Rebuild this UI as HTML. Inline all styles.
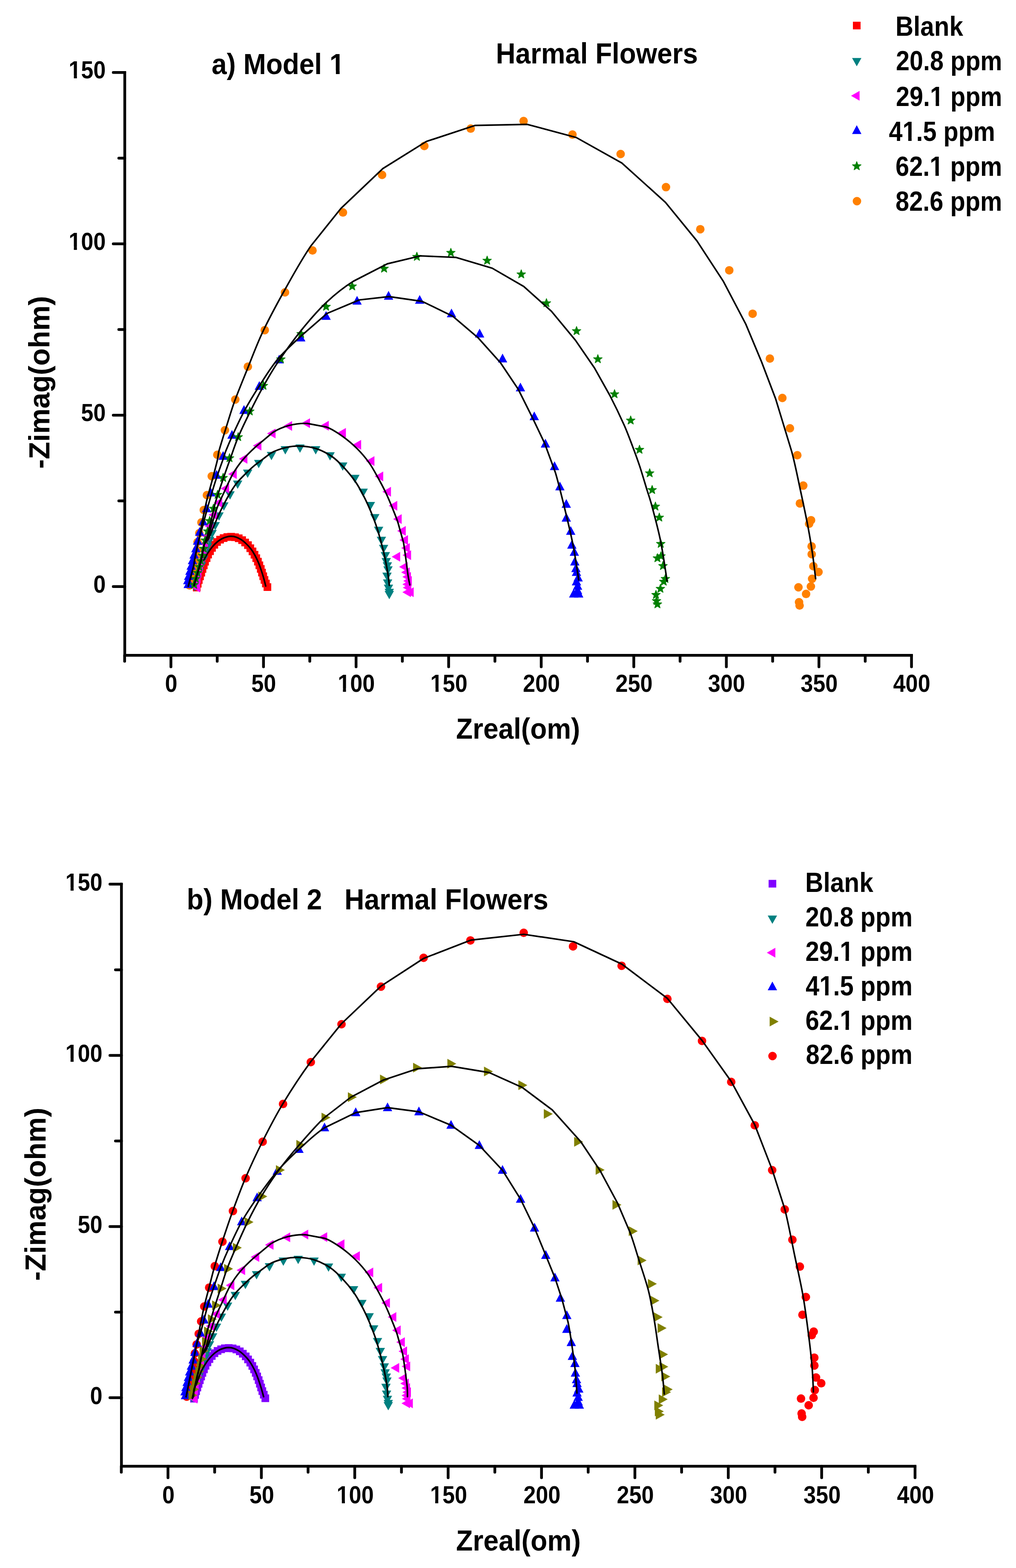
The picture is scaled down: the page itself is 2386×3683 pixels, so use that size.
<!DOCTYPE html>
<html><head><meta charset="utf-8"><title>Harmal Flowers - Nyquist plots</title>
<style>html,body{margin:0;padding:0;background:#fff;}svg{display:block;}</style></head>
<body>
<svg width="2386" height="3683" viewBox="0 0 2386 3683">
<rect width="2386" height="3683" fill="#fff"/>
<defs>
<rect id="sq" x="-9" y="-9" width="18" height="18"/>
<circle id="ci" cx="0" cy="0" r="10"/>
<polygon id="tu" points="0,-10.3 11,10.3 -11,10.3"/>
<polygon id="td" points="-11,-9.75 11,-9.75 0,9.75"/>
<polygon id="tl" points="-10,0 10,-11.5 10,11.5"/>
<polygon id="tr" points="10.5,0 -10.5,-11.5 -10.5,11.5"/>
<polygon id="st" points="0,-9.5 2.7,-2.2 10.5,-1.9 4.4,2.9 6.5,10.4 0,6.1 -6.5,10.4 -4.4,2.9 -10.5,-1.9 -2.7,-2.2" stroke-width="1.3" stroke-linejoin="bevel"/>
</defs>
<g fill="#000">
<path d="M293,170.2 V1539.3 H2140.6" fill="none" stroke="#000" stroke-width="6.5" stroke-linejoin="miter" stroke-linecap="square"/>
<path d="M266,1377.7 H293 M266,975.2 H293 M266,572.7 H293 M266,170.2 H293 M279,1176.5 H293 M279,774 H293 M279,371.4 H293 M401.4,1539.3 V1566.3 M618.8,1539.3 V1566.3 M836.2,1539.3 V1566.3 M1053.6,1539.3 V1566.3 M1271,1539.3 V1566.3 M1488.4,1539.3 V1566.3 M1705.8,1539.3 V1566.3 M1923.2,1539.3 V1566.3 M2140.6,1539.3 V1566.3 M292.7,1539.3 V1553.3 M510.1,1539.3 V1553.3 M727.5,1539.3 V1553.3 M944.9,1539.3 V1553.3 M1162.3,1539.3 V1553.3 M1379.7,1539.3 V1553.3 M1597.1,1539.3 V1553.3 M1814.5,1539.3 V1553.3 M2031.9,1539.3 V1553.3" fill="none" stroke="#000" stroke-width="6.5" stroke-linecap="round"/>
</g>
<g fill="#FF0000">
<use href="#sq" x="462" y="1380"/>
<use href="#sq" x="464.3" y="1371.2"/>
<use href="#sq" x="466.8" y="1362.5"/>
<use href="#sq" x="469.7" y="1353.8"/>
<use href="#sq" x="472.6" y="1345.2"/>
<use href="#sq" x="475.5" y="1336.5"/>
<use href="#sq" x="478.5" y="1327.9"/>
<use href="#sq" x="481.5" y="1319.4"/>
<use href="#sq" x="485.1" y="1311"/>
<use href="#sq" x="488.7" y="1302.6"/>
<use href="#sq" x="493.2" y="1294.7"/>
<use href="#sq" x="497.8" y="1286.9"/>
<use href="#sq" x="503.3" y="1279.6"/>
<use href="#sq" x="509.6" y="1273.1"/>
<use href="#sq" x="516.8" y="1267.6"/>
<use href="#sq" x="525.1" y="1263.9"/>
<use href="#sq" x="533.8" y="1261.4"/>
<use href="#sq" x="542.8" y="1260.7"/>
<use href="#sq" x="551.8" y="1261.8"/>
<use href="#sq" x="560.6" y="1264.3"/>
<use href="#sq" x="568.6" y="1268.7"/>
<use href="#sq" x="575.7" y="1274.3"/>
<use href="#sq" x="582.3" y="1280.4"/>
<use href="#sq" x="587.8" y="1287.7"/>
<use href="#sq" x="593" y="1295.2"/>
<use href="#sq" x="597.7" y="1303"/>
<use href="#sq" x="601.8" y="1311.1"/>
<use href="#sq" x="605.7" y="1319.3"/>
<use href="#sq" x="609.1" y="1327.8"/>
<use href="#sq" x="612.4" y="1336.3"/>
<use href="#sq" x="615.3" y="1344.9"/>
<use href="#sq" x="618.2" y="1353.5"/>
<use href="#sq" x="621.1" y="1362.2"/>
<use href="#sq" x="624.4" y="1370.6"/>
<use href="#sq" x="628" y="1379"/>
</g>
<g fill="#008080">
<use href="#td" x="457" y="1379"/>
<use href="#td" x="459" y="1372"/>
<use href="#td" x="463" y="1360"/>
<use href="#td" x="468" y="1345"/>
<use href="#td" x="473" y="1330"/>
<use href="#td" x="478" y="1315"/>
<use href="#td" x="483" y="1300"/>
<use href="#td" x="487.6" y="1285.4"/>
<use href="#td" x="492.4" y="1270.8"/>
<use href="#td" x="498.1" y="1254.6"/>
<use href="#td" x="505.4" y="1235.9"/>
<use href="#td" x="514.3" y="1213.2"/>
<use href="#td" x="525.7" y="1189.7"/>
<use href="#td" x="540.2" y="1163.8"/>
<use href="#td" x="558.1" y="1138.6"/>
<use href="#td" x="581.6" y="1112.7"/>
<use href="#td" x="607.6" y="1090"/>
<use href="#td" x="637.5" y="1071.2"/>
<use href="#td" x="670" y="1057.7"/>
<use href="#td" x="704.5" y="1053.8"/>
<use href="#td" x="741.4" y="1057.7"/>
<use href="#td" x="775.1" y="1071.9"/>
<use href="#td" x="804.9" y="1096"/>
<use href="#td" x="833.5" y="1125.1"/>
<use href="#td" x="852.9" y="1157.5"/>
<use href="#td" x="869.8" y="1188.7"/>
<use href="#td" x="880.2" y="1217.2"/>
<use href="#td" x="889.2" y="1247"/>
<use href="#td" x="895.7" y="1270.4"/>
<use href="#td" x="900.9" y="1289.6"/>
<use href="#td" x="905" y="1306.5"/>
<use href="#td" x="907" y="1320.5"/>
<use href="#td" x="909.7" y="1330.5"/>
<use href="#td" x="911.2" y="1340"/>
<use href="#td" x="908.9" y="1354.7"/>
<use href="#td" x="910.3" y="1370.7"/>
<use href="#td" x="912.3" y="1382.9"/>
<use href="#td" x="914.2" y="1392.7"/>
<use href="#td" x="914.2" y="1397.7"/>
</g>
<g fill="#FF00FF">
<use href="#tl" x="460" y="1380"/>
<use href="#tl" x="459" y="1370"/>
<use href="#tl" x="461" y="1358"/>
<use href="#tl" x="463" y="1346"/>
<use href="#tl" x="466" y="1333"/>
<use href="#tl" x="469" y="1320"/>
<use href="#tl" x="472" y="1307"/>
<use href="#tl" x="475.4" y="1293.5"/>
<use href="#tl" x="478.6" y="1277.3"/>
<use href="#tl" x="483.5" y="1258.6"/>
<use href="#tl" x="490.8" y="1235.9"/>
<use href="#tl" x="499.7" y="1209.2"/>
<use href="#tl" x="511.9" y="1180.8"/>
<use href="#tl" x="528.1" y="1147.5"/>
<use href="#tl" x="545.9" y="1113.5"/>
<use href="#tl" x="571" y="1077.8"/>
<use href="#tl" x="603.9" y="1046.8"/>
<use href="#tl" x="637.1" y="1018.2"/>
<use href="#tl" x="676" y="1000.6"/>
<use href="#tl" x="718" y="994.1"/>
<use href="#tl" x="762.1" y="1000.1"/>
<use href="#tl" x="802.3" y="1016.7"/>
<use href="#tl" x="838.1" y="1044.7"/>
<use href="#tl" x="869.3" y="1083.1"/>
<use href="#tl" x="890" y="1119.1"/>
<use href="#tl" x="908.2" y="1154.9"/>
<use href="#tl" x="923" y="1188.1"/>
<use href="#tl" x="933.3" y="1219.3"/>
<use href="#tl" x="942.9" y="1247"/>
<use href="#tl" x="948.1" y="1268.5"/>
<use href="#tl" x="952.3" y="1287.2"/>
<use href="#tl" x="955.4" y="1304.1"/>
<use href="#tl" x="929.8" y="1307.7"/>
<use href="#tl" x="947.3" y="1331.6"/>
<use href="#tl" x="952.1" y="1344.2"/>
<use href="#tl" x="955" y="1354.9"/>
<use href="#tl" x="957" y="1364.6"/>
<use href="#tl" x="955" y="1372.4"/>
<use href="#tl" x="956" y="1380.2"/>
<use href="#tl" x="955" y="1390.9"/>
<use href="#tl" x="961.5" y="1390.9"/>
</g>
<g fill="#FF8000">
<use href="#ci" x="445" y="1374.9"/>
<use href="#ci" x="445.5" y="1367.9"/>
<use href="#ci" x="447.5" y="1358.9"/>
<use href="#ci" x="450" y="1348.9"/>
<use href="#ci" x="452.5" y="1337.9"/>
<use href="#ci" x="454.5" y="1327.9"/>
<use href="#ci" x="457" y="1316.9"/>
<use href="#ci" x="459.5" y="1305.9"/>
<use href="#ci" x="462.5" y="1291.9"/>
<use href="#ci" x="464" y="1273.3"/>
<use href="#ci" x="468.1" y="1252.2"/>
<use href="#ci" x="473" y="1227.1"/>
<use href="#ci" x="478.6" y="1197.9"/>
<use href="#ci" x="485.9" y="1163"/>
<use href="#ci" x="497.3" y="1118.5"/>
<use href="#ci" x="510.3" y="1068.2"/>
<use href="#ci" x="528.2" y="1010.5"/>
<use href="#ci" x="552.6" y="938.5"/>
<use href="#ci" x="582.1" y="861.3"/>
<use href="#ci" x="621.8" y="775.4"/>
<use href="#ci" x="669.3" y="686.7"/>
<use href="#ci" x="733.9" y="588.3"/>
<use href="#ci" x="805.4" y="499.1"/>
<use href="#ci" x="897.3" y="410.8"/>
<use href="#ci" x="996.5" y="342.9"/>
<use href="#ci" x="1105.4" y="302.1"/>
<use href="#ci" x="1229.6" y="284.2"/>
<use href="#ci" x="1344.4" y="316.1"/>
<use href="#ci" x="1457.5" y="361.7"/>
<use href="#ci" x="1564" y="439.6"/>
<use href="#ci" x="1644.6" y="538.4"/>
<use href="#ci" x="1712.6" y="634.9"/>
<use href="#ci" x="1767.5" y="736.9"/>
<use href="#ci" x="1808" y="842.3"/>
<use href="#ci" x="1837.3" y="934.7"/>
<use href="#ci" x="1855.1" y="1006"/>
<use href="#ci" x="1872.4" y="1069.2"/>
<use href="#ci" x="1886.4" y="1140.6"/>
<use href="#ci" x="1878.5" y="1182.4"/>
<use href="#ci" x="1904.7" y="1221.9"/>
<use href="#ci" x="1900.2" y="1230.3"/>
<use href="#ci" x="1906" y="1283.2"/>
<use href="#ci" x="1906.2" y="1301.7"/>
<use href="#ci" x="1910.1" y="1329.9"/>
<use href="#ci" x="1922.2" y="1343.5"/>
<use href="#ci" x="1907.2" y="1359.5"/>
<use href="#ci" x="1904.3" y="1377.6"/>
<use href="#ci" x="1875.1" y="1379.5"/>
<use href="#ci" x="1893" y="1395.1"/>
<use href="#ci" x="1876.5" y="1414.5"/>
<use href="#ci" x="1877.8" y="1422.3"/>
</g>
<g fill="#0000FF">
<use href="#tu" x="442" y="1371"/>
<use href="#tu" x="441" y="1362"/>
<use href="#tu" x="443" y="1352"/>
<use href="#tu" x="446" y="1340"/>
<use href="#tu" x="449" y="1328"/>
<use href="#tu" x="452" y="1315"/>
<use href="#tu" x="455.9" y="1301.6"/>
<use href="#tu" x="460" y="1287"/>
<use href="#tu" x="464" y="1269.1"/>
<use href="#tu" x="468.9" y="1248.1"/>
<use href="#tu" x="477" y="1223.7"/>
<use href="#tu" x="485.1" y="1193"/>
<use href="#tu" x="494.9" y="1155.7"/>
<use href="#tu" x="508.6" y="1114.3"/>
<use href="#tu" x="524" y="1069.7"/>
<use href="#tu" x="544.8" y="1020.3"/>
<use href="#tu" x="573" y="961.9"/>
<use href="#tu" x="609" y="905.5"/>
<use href="#tu" x="655.7" y="843.2"/>
<use href="#tu" x="706.3" y="791.7"/>
<use href="#tu" x="765.8" y="741"/>
<use href="#tu" x="838.5" y="705.3"/>
<use href="#tu" x="912.5" y="693.6"/>
<use href="#tu" x="985.6" y="703.3"/>
<use href="#tu" x="1060.3" y="735"/>
<use href="#tu" x="1126.3" y="782.4"/>
<use href="#tu" x="1180.2" y="840.9"/>
<use href="#tu" x="1222.2" y="909"/>
<use href="#tu" x="1254.7" y="976.7"/>
<use href="#tu" x="1280.9" y="1040.9"/>
<use href="#tu" x="1302.3" y="1093.9"/>
<use href="#tu" x="1314.9" y="1141.5"/>
<use href="#tu" x="1329.9" y="1182.5"/>
<use href="#tu" x="1329.9" y="1214.9"/>
<use href="#tu" x="1340.3" y="1246"/>
<use href="#tu" x="1342.9" y="1278.5"/>
<use href="#tu" x="1348.8" y="1295.3"/>
<use href="#tu" x="1349.9" y="1317.9"/>
<use href="#tu" x="1352.5" y="1333.5"/>
<use href="#tu" x="1353.8" y="1342.5"/>
<use href="#tu" x="1357.7" y="1355.5"/>
<use href="#tu" x="1353.8" y="1364.6"/>
<use href="#tu" x="1356.4" y="1375"/>
<use href="#tu" x="1356.4" y="1385.3"/>
<use href="#tu" x="1347.3" y="1393.1"/>
<use href="#tu" x="1359" y="1393.1"/>
</g>
<g fill="#008000" stroke="#008000">
<use href="#st" x="456" y="1372"/>
<use href="#st" x="460" y="1358"/>
<use href="#st" x="464" y="1344"/>
<use href="#st" x="468" y="1330"/>
<use href="#st" x="472" y="1316"/>
<use href="#st" x="475.4" y="1303.2"/>
<use href="#st" x="478.6" y="1287"/>
<use href="#st" x="481.9" y="1267.5"/>
<use href="#st" x="487.6" y="1246.4"/>
<use href="#st" x="492.4" y="1222.1"/>
<use href="#st" x="501.3" y="1193"/>
<use href="#st" x="511.1" y="1160.5"/>
<use href="#st" x="524" y="1120.8"/>
<use href="#st" x="539" y="1074.6"/>
<use href="#st" x="559.4" y="1025.1"/>
<use href="#st" x="586.6" y="964.8"/>
<use href="#st" x="618.7" y="904.5"/>
<use href="#st" x="659.6" y="842.3"/>
<use href="#st" x="707.2" y="782.9"/>
<use href="#st" x="765.8" y="718.9"/>
<use href="#st" x="827.2" y="671"/>
<use href="#st" x="902" y="629.4"/>
<use href="#st" x="979" y="601.5"/>
<use href="#st" x="1058.8" y="592.2"/>
<use href="#st" x="1144" y="610.5"/>
<use href="#st" x="1224.1" y="642.8"/>
<use href="#st" x="1283.3" y="710.5"/>
<use href="#st" x="1354" y="776"/>
<use href="#st" x="1404" y="842.1"/>
<use href="#st" x="1443.2" y="924.3"/>
<use href="#st" x="1481.1" y="986.1"/>
<use href="#st" x="1501.8" y="1054.8"/>
<use href="#st" x="1525.7" y="1110"/>
<use href="#st" x="1531.5" y="1149.3"/>
<use href="#st" x="1539.2" y="1188.2"/>
<use href="#st" x="1548.3" y="1214.1"/>
<use href="#st" x="1551.7" y="1275.9"/>
<use href="#st" x="1552.2" y="1304.9"/>
<use href="#st" x="1543.9" y="1309.6"/>
<use href="#st" x="1556.9" y="1327.8"/>
<use href="#st" x="1562.6" y="1358.1"/>
<use href="#st" x="1558.7" y="1364.6"/>
<use href="#st" x="1550.9" y="1381.4"/>
<use href="#st" x="1540.5" y="1395.7"/>
<use href="#st" x="1541.8" y="1410"/>
<use href="#st" x="1543.9" y="1417.8"/>
</g>
<g fill="none" stroke="#000" stroke-width="3.7" stroke-linejoin="round" stroke-linecap="round">
<path d="M478.8,1315.6 C478.8,1315.6 484.8,1304 488,1299 C491.2,1294 495,1288.6 498.5,1284.5 C502,1280.4 506.3,1276.1 510,1273 C513.7,1269.9 518.5,1266.8 522,1265 C525.5,1263.2 529.7,1261.8 533,1261 C536.3,1260.2 539.6,1259.6 543,1259.7 C546.4,1259.8 550.5,1260.3 554,1261.5 C557.5,1262.7 562.6,1265.1 566.5,1267.6 C570.4,1270.1 574.4,1273.6 578,1277 C581.6,1280.4 586.1,1285.2 589.5,1289.7 C592.9,1294.2 595.8,1299.1 598.5,1304 C601.2,1308.9 604.2,1315.2 606.6,1320.8 C609,1326.4 611,1332.2 613,1338 C615,1343.8 617.2,1350.6 619,1357 C620.8,1363.4 624,1376.6 624,1376.6"/>
<path d="M455.8,1375 L468.6,1330 C470.4,1323.4 472.2,1316.7 473.7,1310 C475.2,1303.3 477.4,1285.7 479.5,1280 C481.6,1274.3 487.2,1270.4 490,1265 C492.8,1259.6 496.4,1249.4 499.7,1241.6 C503,1233.8 511.4,1213.6 517.5,1201 C523.6,1188.4 531.5,1173.3 537,1163.8 C542.5,1154.3 548.5,1144.4 554.8,1136.2 C561.1,1128 568.6,1120.8 575.9,1113.5 C583.2,1106.2 591.6,1098.3 600,1091.4 L636.3,1064.1 C647.1,1058 659.9,1053.9 671.3,1051.2 C682.7,1048.5 694.7,1047.4 706.4,1047.8 C718.1,1048.2 731.1,1049.9 742.7,1053.8 C754.3,1057.7 768.4,1064.7 779,1071.9 C789.6,1079.1 798.7,1088.5 807.5,1097.9 C816.3,1107.3 827.4,1120.9 834.8,1131.6 C842.2,1142.3 848.5,1154.3 854.2,1165.3 C859.9,1176.3 865.1,1187.9 869.8,1199 C874.5,1210.1 879,1221.6 882.8,1232.7 C886.6,1243.8 890,1255.1 893.1,1266.5 C896.2,1277.9 900.5,1294.1 903.5,1308 C906.5,1321.9 910,1341.8 911.3,1350 C912.6,1358.2 914.2,1374.8 914.2,1374.8"/>
<path d="M455.8,1375 L468.6,1330 C470.4,1323.4 472.2,1316.7 473.7,1310 C475.2,1303.3 477.1,1287.8 479.5,1280 C481.9,1272.2 487.2,1265.6 490,1258 C492.8,1250.4 495.3,1239.4 498.1,1230.2 C500.9,1221 506.4,1201.9 511.1,1189.7 C515.8,1177.5 521.8,1165.8 527.3,1154 C532.8,1142.2 540.1,1124.9 546.7,1113.5 C553.3,1102.1 560.9,1091.1 569.4,1081 C577.9,1070.9 589.3,1059.7 600,1049.9 L640.2,1016.1 C652.1,1008.5 665.4,1002.9 679.1,999.3 C692.8,995.7 707.6,994 721.9,994.6 L767.3,1003.2 C780.9,1008.2 793.1,1016.8 804.9,1025.2 C816.7,1033.6 828.2,1043.4 838.6,1053.8 C849,1064.2 859.3,1076.5 867.2,1087.5 C875.1,1098.5 881.5,1111 887.9,1122.5 C894.3,1134 900.5,1145.6 906.1,1157.5 C911.7,1169.4 917.2,1182.6 921.7,1193.8 C926.2,1205 930.9,1216.1 934.6,1227.6 L947.6,1274.3 C950.6,1290.2 956.8,1342 958,1350 C959.2,1358 962.4,1373.9 962.4,1373.9"/>
<path d="M442.2,1376.9 C442.2,1376.9 453,1336.6 454.6,1330 C456.2,1323.4 456.7,1316.6 458,1310 C459.3,1303.4 462.6,1288.3 464.3,1280 C466,1271.7 467.9,1263.4 469.5,1255 C471.1,1246.6 474.7,1226.7 477,1215 C479.3,1203.3 482.5,1188.4 484.5,1180 C486.5,1171.6 488.8,1163.3 491,1155 C493.2,1146.7 498.1,1129.3 501.3,1117 C504.5,1104.7 509.2,1086.6 510.7,1080 C512.2,1073.4 512.2,1066.5 514,1060 C515.8,1053.5 525.3,1022.4 531.2,1003.7 C537.1,985 543.4,963.3 550.6,943.4 C557.8,923.5 569.9,894 579.8,869.5 C589.7,845 603,809.2 616.8,780 C630.6,750.8 652.7,709.6 671.5,676 C690.3,642.4 709.4,607.5 730.7,576.8 L800.8,489.3 L899.2,395.9 L1001.2,332.3 L1116,294.6 L1238.5,292.2 L1353.3,323 L1460.3,382.9 L1562.8,475.3 L1636.8,566 L1699,661.3 L1751.6,761.7 L1788.5,850 L1821.6,937 L1859.5,1061.5 C1867.4,1090.7 1873,1120.4 1879.4,1150 C1885.8,1179.6 1894.1,1219.4 1897.9,1239.5 C1901.7,1259.6 1905.1,1280.4 1908,1300 C1910.9,1319.6 1915.4,1359.1 1915.4,1359.1"/>
<path d="M442.2,1376.9 C442.2,1376.9 453,1336.6 454.6,1330 C456.2,1323.4 456.7,1316.6 458,1310 C459.3,1303.4 462.6,1287.4 464.3,1280 C466,1272.6 468.1,1265.3 470,1258 C471.9,1250.7 476.6,1232.6 480,1220 C483.4,1207.4 487.2,1193.3 491,1180 C494.8,1166.7 500.6,1146.6 506,1130 C511.4,1113.4 521.1,1086.6 523.4,1080 C525.7,1073.4 527.4,1066.5 530,1060 C532.6,1053.5 540.8,1034 546.7,1021.2 C552.6,1008.4 564,983.2 574,964.8 C584,946.4 596.7,925.5 609,906.5 C621.3,887.5 635.6,863.5 651.8,844.2 C668,824.9 688.3,806.7 707.4,788.9 L767.7,736.4 L843.6,704.5 L913.6,696.7 L991.4,707.8 L1063.4,742.8 L1122.4,793.1 L1174.9,851.4 L1216.7,913.7 L1250.8,981.8 L1279,1041.1 L1304.3,1110 C1311.4,1133.4 1321.3,1174.5 1327.8,1201.2 C1334.3,1227.9 1340.8,1254.9 1346,1281.6 C1351.2,1308.3 1359,1362 1359,1362"/>
<path d="M455.8,1375 C455.8,1375 466.8,1336.6 468.6,1330 C470.4,1323.4 472.2,1316.7 473.7,1310 C475.2,1303.3 477.6,1287.5 479.5,1280 C481.4,1272.5 484.9,1265.5 487,1258 C489.1,1250.5 493.1,1234 496,1222 C498.9,1210 502,1193.8 506,1180 C510,1166.2 518.9,1140.1 524,1125 C529.1,1109.9 534.5,1095 539.9,1080 C545.3,1065 551.5,1045.7 558.4,1029 C565.3,1012.3 574.9,992.5 583.7,974.6 C592.5,956.7 605.8,930.2 616.8,910.4 C627.8,890.6 639.1,870.8 651.8,852 C664.5,833.2 690.6,796.7 709,774 C727.4,751.3 748.5,727.1 767.7,709.1 C786.9,691.1 807.7,674.5 830,660.5 L909.7,619.6 L987.5,601 L1071.2,604.7 L1156,630 L1230,672.8 L1295,731.1 L1351.4,799.2 L1396,864.1 L1432.3,929 C1443.7,951 1458.8,982.9 1466,999 C1473.2,1015.1 1479.6,1032.8 1485.5,1048.3 C1491.4,1063.8 1497.1,1079.3 1502.3,1095 C1507.5,1110.7 1515.5,1138.1 1519.2,1150 C1522.9,1161.9 1527,1173.6 1530.2,1185.6 C1533.4,1197.6 1545.2,1240.7 1550.9,1268.6 C1556.6,1296.5 1566.5,1364.6 1566.5,1364.6"/>
</g>
<g font-family="&quot;Liberation Sans&quot;, Arial, sans-serif" font-weight="bold" fill="#000">
<g transform="translate(497,174.3) scale(0.9398,1)"><text font-size="68">a) Model 1</text><g fill="#fff"><rect x="297.66" y="-8.44" width="12.88" height="9.44"/><rect x="319.87" y="-8.44" width="11.99" height="9.44"/></g></g>
<text transform="translate(1164.5,148.7) scale(0.9370,1)" font-size="68">Harmal Flowers</text>
<text transform="translate(2103,84) scale(0.9117,1)" font-size="64">Blank</text>
<text transform="translate(2104,165.4) scale(0.8993,1)" font-size="64">20.8 ppm</text>
<g transform="translate(2104,248.8) scale(0.8993,1)"><text font-size="64">29.1 ppm</text><g fill="#fff"><rect x="91.78" y="-8.03" width="12.12" height="9.03"/><rect x="112.69" y="-8.03" width="11.28" height="9.03"/></g></g>
<g transform="translate(2087.5,330.6) scale(0.8993,1)"><text font-size="64">41.5 ppm</text><g fill="#fff"><rect x="38.41" y="-8.03" width="12.12" height="9.03"/><rect x="59.31" y="-8.03" width="11.28" height="9.03"/></g></g>
<g transform="translate(2103,413.4) scale(0.9029,1)"><text font-size="64">62.1 ppm</text><g fill="#fff"><rect x="91.78" y="-8.03" width="12.12" height="9.03"/><rect x="112.69" y="-8.03" width="11.28" height="9.03"/></g></g>
<text transform="translate(2103,494.8) scale(0.9029,1)" font-size="64">82.6 ppm</text>
<text transform="translate(219.3,1391.9) scale(0.9000,1)" font-size="58">0</text>
<text transform="translate(190.2,989.4) scale(0.9000,1)" font-size="58">50</text>
<g transform="translate(161.3,586.9) scale(0.9000,1)"><text font-size="58">100</text><g fill="#fff"><rect x="2.55" y="-7.42" width="10.99" height="8.42"/><rect x="21.50" y="-7.42" width="10.22" height="8.42"/></g></g>
<g transform="translate(161.3,184.4) scale(0.9000,1)"><text font-size="58">150</text><g fill="#fff"><rect x="2.55" y="-7.42" width="10.99" height="8.42"/><rect x="21.50" y="-7.42" width="10.22" height="8.42"/></g></g>
<text transform="translate(387.4,1624.5) scale(0.9000,1)" font-size="58">0</text>
<text transform="translate(590.3,1624.5) scale(0.9000,1)" font-size="58">50</text>
<g transform="translate(793.2,1624.5) scale(0.9000,1)"><text font-size="58">100</text><g fill="#fff"><rect x="2.55" y="-7.42" width="10.99" height="8.42"/><rect x="21.50" y="-7.42" width="10.22" height="8.42"/></g></g>
<g transform="translate(1010.6,1624.5) scale(0.9000,1)"><text font-size="58">150</text><g fill="#fff"><rect x="2.55" y="-7.42" width="10.99" height="8.42"/><rect x="21.50" y="-7.42" width="10.22" height="8.42"/></g></g>
<text transform="translate(1228,1624.5) scale(0.9000,1)" font-size="58">200</text>
<text transform="translate(1445.4,1624.5) scale(0.9000,1)" font-size="58">250</text>
<text transform="translate(1662.8,1624.5) scale(0.9000,1)" font-size="58">300</text>
<text transform="translate(1880.2,1624.5) scale(0.9000,1)" font-size="58">350</text>
<text transform="translate(2097.6,1624.5) scale(0.9000,1)" font-size="58">400</text>
<text transform="translate(1071,1734.9) scale(0.9406,1)" font-size="68">Zreal(om)</text>
<text transform="translate(116,1101) rotate(-90) scale(0.9861,1)" font-size="68">-Zimag(ohm)</text>
</g>
<use href="#sq" x="2012" y="60" fill="#FF0000"/>
<use href="#td" x="2012" y="145.9" fill="#008080"/>
<use href="#tl" x="2008.6" y="225" fill="#FF00FF"/>
<use href="#tu" x="2012" y="304.4" fill="#0000FF"/>
<use href="#st" x="2012" y="388.8" fill="#008000" stroke="#008000"/>
<use href="#ci" x="2012.5" y="472.5" fill="#FF8000"/>
<g fill="#000">
<path d="M285.2,2076.8 V3444 H2148.9" fill="none" stroke="#000" stroke-width="6.5" stroke-linejoin="miter" stroke-linecap="square"/>
<path d="M258.2,3283 H285.2 M258.2,2880.9 H285.2 M258.2,2478.9 H285.2 M258.2,2076.8 H285.2 M271.2,3082 H285.2 M271.2,2679.9 H285.2 M271.2,2277.9 H285.2 M394.5,3444 V3471 M613.8,3444 V3471 M833.1,3444 V3471 M1052.4,3444 V3471 M1271.7,3444 V3471 M1491,3444 V3471 M1710.3,3444 V3471 M1929.6,3444 V3471 M2148.9,3444 V3471 M284.9,3444 V3458 M504.1,3444 V3458 M723.5,3444 V3458 M942.8,3444 V3458 M1162.1,3444 V3458 M1381.3,3444 V3458 M1600.7,3444 V3458 M1820,3444 V3458 M2039.2,3444 V3458" fill="none" stroke="#000" stroke-width="6.5" stroke-linecap="round"/>
</g>
<g fill="#8000FF">
<use href="#sq" x="455.6" y="3285.3"/>
<use href="#sq" x="458" y="3276.5"/>
<use href="#sq" x="460.5" y="3267.8"/>
<use href="#sq" x="463.4" y="3259.1"/>
<use href="#sq" x="466.3" y="3250.5"/>
<use href="#sq" x="469.2" y="3241.9"/>
<use href="#sq" x="472.3" y="3233.3"/>
<use href="#sq" x="475.3" y="3224.7"/>
<use href="#sq" x="478.9" y="3216.4"/>
<use href="#sq" x="482.6" y="3208"/>
<use href="#sq" x="487.1" y="3200.1"/>
<use href="#sq" x="491.8" y="3192.3"/>
<use href="#sq" x="497.3" y="3185"/>
<use href="#sq" x="503.6" y="3178.5"/>
<use href="#sq" x="510.9" y="3173.1"/>
<use href="#sq" x="519.3" y="3169.3"/>
<use href="#sq" x="528.1" y="3166.9"/>
<use href="#sq" x="537.2" y="3166.2"/>
<use href="#sq" x="546.3" y="3167.2"/>
<use href="#sq" x="555.1" y="3169.7"/>
<use href="#sq" x="563.1" y="3174.1"/>
<use href="#sq" x="570.3" y="3179.7"/>
<use href="#sq" x="577" y="3185.9"/>
<use href="#sq" x="582.5" y="3193.1"/>
<use href="#sq" x="587.8" y="3200.6"/>
<use href="#sq" x="592.6" y="3208.4"/>
<use href="#sq" x="596.7" y="3216.5"/>
<use href="#sq" x="600.6" y="3224.7"/>
<use href="#sq" x="604" y="3233.1"/>
<use href="#sq" x="607.4" y="3241.6"/>
<use href="#sq" x="610.3" y="3250.2"/>
<use href="#sq" x="613.2" y="3258.9"/>
<use href="#sq" x="616.1" y="3267.5"/>
<use href="#sq" x="619.5" y="3275.9"/>
<use href="#sq" x="623.1" y="3284.3"/>
</g>
<g fill="#008080">
<use href="#td" x="450.6" y="3284.3"/>
<use href="#td" x="452.6" y="3277.3"/>
<use href="#td" x="456.6" y="3265.3"/>
<use href="#td" x="461.7" y="3250.3"/>
<use href="#td" x="466.7" y="3235.4"/>
<use href="#td" x="471.8" y="3220.4"/>
<use href="#td" x="476.8" y="3205.4"/>
<use href="#td" x="481.5" y="3190.8"/>
<use href="#td" x="486.3" y="3176.2"/>
<use href="#td" x="492" y="3160"/>
<use href="#td" x="499.4" y="3141.4"/>
<use href="#td" x="508.4" y="3118.7"/>
<use href="#td" x="519.9" y="3095.2"/>
<use href="#td" x="534.5" y="3069.3"/>
<use href="#td" x="552.6" y="3044.2"/>
<use href="#td" x="576.3" y="3018.3"/>
<use href="#td" x="602.5" y="2995.6"/>
<use href="#td" x="632.7" y="2976.8"/>
<use href="#td" x="665.4" y="2963.4"/>
<use href="#td" x="700.2" y="2959.5"/>
<use href="#td" x="737.5" y="2963.4"/>
<use href="#td" x="771.5" y="2977.5"/>
<use href="#td" x="801.5" y="3001.6"/>
<use href="#td" x="830.4" y="3030.7"/>
<use href="#td" x="849.9" y="3063"/>
<use href="#td" x="867" y="3094.2"/>
<use href="#td" x="877.5" y="3122.7"/>
<use href="#td" x="886.6" y="3152.4"/>
<use href="#td" x="893.1" y="3175.8"/>
<use href="#td" x="898.4" y="3195"/>
<use href="#td" x="902.5" y="3211.9"/>
<use href="#td" x="904.5" y="3225.9"/>
<use href="#td" x="907.2" y="3235.9"/>
<use href="#td" x="908.8" y="3245.3"/>
<use href="#td" x="906.4" y="3260"/>
<use href="#td" x="907.8" y="3276"/>
<use href="#td" x="909.9" y="3288.2"/>
<use href="#td" x="911.8" y="3298"/>
<use href="#td" x="911.8" y="3303"/>
</g>
<g fill="#FF00FF">
<use href="#tl" x="453.6" y="3285.3"/>
<use href="#tl" x="452.6" y="3275.3"/>
<use href="#tl" x="454.6" y="3263.3"/>
<use href="#tl" x="456.6" y="3251.3"/>
<use href="#tl" x="459.7" y="3238.4"/>
<use href="#tl" x="462.7" y="3225.4"/>
<use href="#tl" x="465.7" y="3212.4"/>
<use href="#tl" x="469.1" y="3198.9"/>
<use href="#tl" x="472.4" y="3182.7"/>
<use href="#tl" x="477.3" y="3164"/>
<use href="#tl" x="484.7" y="3141.4"/>
<use href="#tl" x="493.7" y="3114.7"/>
<use href="#tl" x="506" y="3086.3"/>
<use href="#tl" x="522.3" y="3053.1"/>
<use href="#tl" x="540.3" y="3019.1"/>
<use href="#tl" x="565.6" y="2983.4"/>
<use href="#tl" x="598.8" y="2952.5"/>
<use href="#tl" x="632.3" y="2923.9"/>
<use href="#tl" x="671.5" y="2906.3"/>
<use href="#tl" x="713.9" y="2899.8"/>
<use href="#tl" x="758.4" y="2905.8"/>
<use href="#tl" x="798.9" y="2922.4"/>
<use href="#tl" x="835" y="2950.4"/>
<use href="#tl" x="866.5" y="2988.7"/>
<use href="#tl" x="887.4" y="3024.7"/>
<use href="#tl" x="905.7" y="3060.4"/>
<use href="#tl" x="920.7" y="3093.6"/>
<use href="#tl" x="931" y="3124.8"/>
<use href="#tl" x="940.7" y="3152.4"/>
<use href="#tl" x="946" y="3173.9"/>
<use href="#tl" x="950.2" y="3192.6"/>
<use href="#tl" x="953.3" y="3209.5"/>
<use href="#tl" x="927.5" y="3213.1"/>
<use href="#tl" x="945.2" y="3237"/>
<use href="#tl" x="950" y="3249.5"/>
<use href="#tl" x="952.9" y="3260.2"/>
<use href="#tl" x="955" y="3269.9"/>
<use href="#tl" x="952.9" y="3277.7"/>
<use href="#tl" x="953.9" y="3285.5"/>
<use href="#tl" x="952.9" y="3296.2"/>
<use href="#tl" x="959.5" y="3296.2"/>
</g>
<g fill="#FF0000">
<use href="#ci" x="438.5" y="3280.5"/>
<use href="#ci" x="439" y="3273.5"/>
<use href="#ci" x="441" y="3264.5"/>
<use href="#ci" x="443.5" y="3254.5"/>
<use href="#ci" x="446" y="3243.5"/>
<use href="#ci" x="448.1" y="3233.6"/>
<use href="#ci" x="450.6" y="3222.6"/>
<use href="#ci" x="453.1" y="3211.6"/>
<use href="#ci" x="456.1" y="3197.6"/>
<use href="#ci" x="457.6" y="3179"/>
<use href="#ci" x="461.8" y="3157.9"/>
<use href="#ci" x="466.7" y="3132.9"/>
<use href="#ci" x="472.4" y="3103.7"/>
<use href="#ci" x="479.7" y="3068.8"/>
<use href="#ci" x="491.2" y="3024.4"/>
<use href="#ci" x="504.4" y="2974.1"/>
<use href="#ci" x="522.4" y="2916.5"/>
<use href="#ci" x="547" y="2844.6"/>
<use href="#ci" x="576.8" y="2767.5"/>
<use href="#ci" x="616.8" y="2681.7"/>
<use href="#ci" x="664.7" y="2593.1"/>
<use href="#ci" x="729.9" y="2494.8"/>
<use href="#ci" x="802" y="2405.7"/>
<use href="#ci" x="894.7" y="2317.5"/>
<use href="#ci" x="994.8" y="2249.7"/>
<use href="#ci" x="1104.7" y="2208.9"/>
<use href="#ci" x="1229.9" y="2191"/>
<use href="#ci" x="1345.7" y="2222.9"/>
<use href="#ci" x="1459.8" y="2268.4"/>
<use href="#ci" x="1567.3" y="2346.3"/>
<use href="#ci" x="1648.6" y="2444.9"/>
<use href="#ci" x="1717.2" y="2541.3"/>
<use href="#ci" x="1772.5" y="2643.2"/>
<use href="#ci" x="1813.4" y="2748.5"/>
<use href="#ci" x="1842.9" y="2840.8"/>
<use href="#ci" x="1860.9" y="2912"/>
<use href="#ci" x="1878.4" y="2975.1"/>
<use href="#ci" x="1892.5" y="3046.5"/>
<use href="#ci" x="1884.5" y="3088.2"/>
<use href="#ci" x="1910.9" y="3127.7"/>
<use href="#ci" x="1906.4" y="3136.1"/>
<use href="#ci" x="1912.3" y="3188.9"/>
<use href="#ci" x="1912.5" y="3207.4"/>
<use href="#ci" x="1916.4" y="3235.6"/>
<use href="#ci" x="1928.6" y="3249.1"/>
<use href="#ci" x="1913.5" y="3265.1"/>
<use href="#ci" x="1910.5" y="3283.2"/>
<use href="#ci" x="1881.1" y="3285.1"/>
<use href="#ci" x="1899.1" y="3300.7"/>
<use href="#ci" x="1882.5" y="3320.1"/>
<use href="#ci" x="1883.8" y="3327.9"/>
</g>
<g fill="#0000FF">
<use href="#tu" x="435.5" y="3276.3"/>
<use href="#tu" x="434.4" y="3267.3"/>
<use href="#tu" x="436.5" y="3257.3"/>
<use href="#tu" x="439.5" y="3245.3"/>
<use href="#tu" x="442.5" y="3233.4"/>
<use href="#tu" x="445.5" y="3220.4"/>
<use href="#tu" x="449.5" y="3207"/>
<use href="#tu" x="453.6" y="3192.4"/>
<use href="#tu" x="457.6" y="3174.5"/>
<use href="#tu" x="462.6" y="3153.5"/>
<use href="#tu" x="470.8" y="3129.2"/>
<use href="#tu" x="478.9" y="3098.5"/>
<use href="#tu" x="488.8" y="3061.2"/>
<use href="#tu" x="502.6" y="3019.9"/>
<use href="#tu" x="518.2" y="2975.3"/>
<use href="#tu" x="539.2" y="2926"/>
<use href="#tu" x="567.6" y="2867.7"/>
<use href="#tu" x="603.9" y="2811.3"/>
<use href="#tu" x="651" y="2749.1"/>
<use href="#tu" x="702.1" y="2697.7"/>
<use href="#tu" x="762.1" y="2647"/>
<use href="#tu" x="835.4" y="2611.4"/>
<use href="#tu" x="910.1" y="2599.7"/>
<use href="#tu" x="983.8" y="2609.4"/>
<use href="#tu" x="1059.2" y="2641"/>
<use href="#tu" x="1125.7" y="2688.4"/>
<use href="#tu" x="1180.1" y="2746.8"/>
<use href="#tu" x="1222.5" y="2814.8"/>
<use href="#tu" x="1255.3" y="2882.4"/>
<use href="#tu" x="1281.7" y="2946.6"/>
<use href="#tu" x="1303.3" y="2999.5"/>
<use href="#tu" x="1316" y="3047.1"/>
<use href="#tu" x="1331.1" y="3088"/>
<use href="#tu" x="1331.1" y="3120.4"/>
<use href="#tu" x="1341.6" y="3151.4"/>
<use href="#tu" x="1344.2" y="3183.9"/>
<use href="#tu" x="1350.2" y="3200.7"/>
<use href="#tu" x="1351.3" y="3223.3"/>
<use href="#tu" x="1353.9" y="3238.8"/>
<use href="#tu" x="1355.2" y="3247.8"/>
<use href="#tu" x="1359.2" y="3260.8"/>
<use href="#tu" x="1355.2" y="3269.9"/>
<use href="#tu" x="1357.8" y="3280.3"/>
<use href="#tu" x="1357.8" y="3290.6"/>
<use href="#tu" x="1348.7" y="3298.4"/>
<use href="#tu" x="1360.5" y="3298.4"/>
</g>
<g fill="#808000">
<use href="#tr" x="453.1" y="3277.3"/>
<use href="#tr" x="457.1" y="3263.3"/>
<use href="#tr" x="461.1" y="3249.3"/>
<use href="#tr" x="465.2" y="3235.4"/>
<use href="#tr" x="469.2" y="3221.4"/>
<use href="#tr" x="472.6" y="3208.6"/>
<use href="#tr" x="475.9" y="3192.4"/>
<use href="#tr" x="479.2" y="3172.9"/>
<use href="#tr" x="485" y="3151.8"/>
<use href="#tr" x="489.8" y="3127.6"/>
<use href="#tr" x="498.8" y="3098.5"/>
<use href="#tr" x="508.7" y="3066"/>
<use href="#tr" x="521.7" y="3026.4"/>
<use href="#tr" x="536.8" y="2980.2"/>
<use href="#tr" x="557.4" y="2930.8"/>
<use href="#tr" x="584.8" y="2870.6"/>
<use href="#tr" x="617.2" y="2810.3"/>
<use href="#tr" x="658.5" y="2748.2"/>
<use href="#tr" x="706.5" y="2688.9"/>
<use href="#tr" x="765.6" y="2624.9"/>
<use href="#tr" x="827.5" y="2577.1"/>
<use href="#tr" x="903" y="2535.5"/>
<use href="#tr" x="980.6" y="2507.7"/>
<use href="#tr" x="1061.1" y="2498.4"/>
<use href="#tr" x="1147.1" y="2516.7"/>
<use href="#tr" x="1227.9" y="2548.9"/>
<use href="#tr" x="1287.6" y="2616.5"/>
<use href="#tr" x="1358.9" y="2682"/>
<use href="#tr" x="1409.4" y="2748"/>
<use href="#tr" x="1448.9" y="2830.1"/>
<use href="#tr" x="1487.1" y="2891.8"/>
<use href="#tr" x="1508" y="2960.5"/>
<use href="#tr" x="1532.1" y="3015.6"/>
<use href="#tr" x="1538" y="3054.9"/>
<use href="#tr" x="1545.7" y="3093.7"/>
<use href="#tr" x="1554.9" y="3119.6"/>
<use href="#tr" x="1558.4" y="3181.3"/>
<use href="#tr" x="1558.9" y="3210.3"/>
<use href="#tr" x="1550.5" y="3215"/>
<use href="#tr" x="1563.6" y="3233.2"/>
<use href="#tr" x="1569.3" y="3263.4"/>
<use href="#tr" x="1565.4" y="3269.9"/>
<use href="#tr" x="1557.5" y="3286.7"/>
<use href="#tr" x="1547.1" y="3301"/>
<use href="#tr" x="1548.4" y="3315.3"/>
<use href="#tr" x="1550.5" y="3323.1"/>
</g>
<g fill="none" stroke="#000" stroke-width="3.7" stroke-linejoin="round" stroke-linecap="round">
<path d="M451.8,3284.6 C451.8,3284.6 454.3,3280.9 454.7,3278.8 C455.1,3276.7 454.4,3268.3 455.6,3263.3 C456.9,3258.3 460.4,3253 462.5,3247.7 C464.6,3242.5 470,3226.8 472.6,3221 C475.2,3215.2 478.6,3209.4 481.9,3204.4 C485.1,3199.3 488.9,3194 492.4,3189.9 C496,3185.8 500.3,3181.5 504,3178.4 C507.8,3175.3 512.7,3172.2 516.2,3170.4 C519.6,3168.6 524,3167.3 527.3,3166.4 C530.5,3165.6 533.9,3165.1 537.3,3165.1 C540.7,3165.2 544.9,3165.7 548.4,3166.9 C552,3168.1 557.1,3170.5 561,3173 C565,3175.5 569,3179 572.6,3182.4 C576.2,3185.8 580.8,3190.6 584.2,3195.1 C587.7,3199.6 590.6,3204.5 593.3,3209.4 C596.1,3214.3 599.1,3220.5 601.5,3226.2 C603.9,3231.8 605.9,3237.6 607.9,3243.3 C609.9,3249.1 612.2,3256.2 614,3262.3 C615.8,3268.4 619.1,3280.7 619.1,3280.7"/>
<path d="M451.8,3284.6 L462.3,3235.4 C463.8,3228.6 466,3222.1 467.4,3215.4 C468.9,3208.7 471.2,3191.2 473.3,3185.4 C475.4,3179.7 481,3175.8 483.9,3170.4 C486.7,3165 490.3,3154.8 493.7,3147.1 C497,3139.3 505.5,3119.1 511.6,3106.5 C517.7,3093.9 525.8,3078.8 531.3,3069.3 C536.8,3059.9 542.9,3049.9 549.2,3041.8 C555.6,3033.6 563.1,3026.4 570.5,3019.1 C577.9,3011.8 586.3,3003.9 594.8,2997 L631.5,2969.8 C642.4,2963.6 655.2,2959.5 666.8,2956.9 C678.3,2954.2 690.3,2953 702.2,2953.5 C714,2953.9 727,2955.6 738.8,2959.5 C750.5,2963.3 764.7,2970.3 775.4,2977.5 C786.1,2984.8 795.3,2994.1 804.1,3003.5 C813,3012.9 824.2,3026.5 831.7,3037.2 C839.1,3047.8 845.5,3059.9 851.3,3070.8 C857,3081.8 862.3,3093.4 867,3104.5 C871.7,3115.6 876.2,3127 880.1,3138.2 C884,3149.3 887.3,3160.6 890.5,3171.9 C893.6,3183.3 897.9,3199.5 901,3213.4 C904,3227.3 907.6,3247 908.9,3255.3 C910.1,3263.7 910.8,3280.6 910.8,3280.6"/>
<path d="M451.8,3284.6 L462.3,3235.4 C463.8,3228.6 466,3222.1 467.4,3215.4 C468.9,3208.7 470.8,3193.2 473.3,3185.4 C475.7,3177.7 481,3171 483.9,3163.4 C486.7,3155.8 489.2,3144.9 492,3135.7 C494.9,3126.5 500.4,3107.4 505.2,3095.2 C509.9,3083 515.9,3071.4 521.5,3059.6 C527.1,3047.7 534.4,3030.5 541.1,3019.1 C547.7,3007.7 555.4,2996.7 564,2986.6 C572.5,2976.5 584,2965.4 594.8,2955.6 L635.4,2921.8 C647.4,2914.2 660.9,2908.6 674.6,2905 C688.4,2901.4 703.3,2899.7 717.8,2900.3 L763.6,2908.9 C777.3,2913.9 789.6,2922.5 801.5,2930.9 C813.5,2939.3 825,2949.1 835.5,2959.5 C846,2969.9 856.4,2982.1 864.4,2993.1 C872.3,3004.1 878.8,3016.6 885.3,3028.1 C891.7,3039.6 897.9,3051.2 903.6,3063 C909.3,3074.9 914.8,3088.1 919.3,3099.3 C923.9,3110.5 928.6,3121.6 932.4,3133.1 L945.5,3179.7 C948.5,3195.6 955,3247 956,3255.3 C956.9,3263.7 956.9,3280.6 956.9,3280.6"/>
<path d="M437.2,3280.7 C437.2,3280.7 460.1,3165.1 461.8,3156.7 C463.4,3148.4 465.1,3140 466.7,3131.7 C468.4,3123.3 470.4,3112.2 472.4,3102.5 C474.3,3092.8 477,3079.2 479.7,3067.6 C482.5,3056.1 487.4,3038 491.2,3023.2 C495.1,3008.4 499.5,2989.6 504.4,2972.9 C509.2,2956.3 516.1,2934.4 522.4,2915.3 C528.7,2896.2 538.3,2867.2 547,2843.4 C555.7,2819.6 565.9,2791.6 576.8,2766.3 C587.6,2741 602.6,2708.7 616.8,2680.5 C631,2652.3 647.4,2620.6 664.7,2591.9 C682.1,2563.1 707.3,2524.4 729.9,2493.6 L802,2404.5 L894.7,2316.3 L995.3,2250.9 L1106.2,2208.1 L1230,2194.5 L1347.5,2212 L1460.3,2264.5 L1567.3,2345.1 L1648.6,2443.7 L1717.2,2540.1 L1772.5,2642 L1813.4,2747.3 L1842.9,2839.6 C1851.1,2870.9 1859.8,2918.7 1866.4,2950 C1873,2981.3 1880.6,3013.9 1885.9,3044 C1891.2,3074.1 1895.6,3110 1898.8,3134.8 C1902,3159.6 1905.3,3189.4 1907,3209.4 C1908.7,3229.4 1910.2,3269.4 1910.2,3269.4"/>
<path d="M437.2,3280.7 C437.2,3280.7 460.7,3163.9 462.6,3155.5 C464.5,3147.2 468.3,3139.4 470.8,3131.2 C473.2,3123 476.2,3110.7 478.9,3100.5 C481.6,3090.3 485.1,3075.5 488.8,3063.2 C492.5,3050.9 497.9,3035.6 502.6,3021.9 C507.3,3008.1 512.5,2992 518.2,2977.3 C523.9,2962.7 531.7,2944.2 539.2,2928 C546.6,2911.8 557,2888.5 567.6,2869.7 C578.2,2850.8 591.1,2831.6 603.9,2813.3 C616.8,2795.1 635.2,2769.4 651,2751.1 C666.8,2732.8 684.3,2716 702.1,2699.7 C719.8,2683.3 740.1,2663.2 762.1,2649 L835.4,2613.4 L910.1,2601.7 L983.8,2611.4 L1059.2,2643 L1125.7,2690.4 L1180.1,2748.8 L1222.5,2816.8 L1255.3,2884.4 L1281.7,2948.6 L1303.3,3001.5 L1319.3,3050 L1333.8,3104.5 C1337.7,3122.5 1340.2,3140.8 1342.9,3158.9 C1345.6,3177 1348.3,3195.2 1350.2,3213.4 C1352.1,3231.6 1354.9,3272.2 1354.9,3272.2"/>
<path d="M451.8,3284.6 C451.8,3284.6 466.6,3220.4 469.1,3208.6 C471.7,3196.8 474.2,3180 475.7,3172.9 C477.2,3165.8 479.8,3158.9 481.5,3151.8 C483.1,3144.8 484.2,3135.6 486.3,3127.6 C488.4,3119.6 492.3,3108.2 495.3,3098.5 C498.2,3088.8 501.7,3076.8 505.2,3066 C508.6,3055.3 513.8,3039.6 518.2,3026.4 C522.5,3013.2 527.6,2995.4 533.3,2980.2 C539,2965.1 546.7,2947.1 553.9,2930.8 C561,2914.4 571.5,2890.3 581.3,2870.6 C591.1,2850.8 601.9,2829.9 613.7,2810.3 C625.5,2790.8 640.2,2768.2 655,2748.2 C669.7,2728.2 686.3,2708.1 703,2688.9 C719.7,2669.7 742.9,2642.6 762.1,2624.9 L824,2577.1 L900,2537 L979.8,2510.4 L1060.3,2504.6 L1149,2519.4 L1226.8,2554.4 L1296.9,2607 L1364.2,2682.1 L1409,2749.2 L1449.8,2825.1 L1479,2893.2 C1487.2,2914.9 1493.4,2937.2 1500.4,2959.3 C1507.4,2981.4 1517.2,3009.6 1522.7,3031 C1528.2,3052.4 1531.9,3074.5 1535.7,3096 C1539.5,3117.5 1542.2,3139.2 1545.4,3160.8 C1548.6,3182.4 1553,3209.4 1555.1,3225.6 C1557.2,3241.8 1560,3274.3 1560,3274.3"/>
</g>
<g font-family="&quot;Liberation Sans&quot;, Arial, sans-serif" font-weight="bold" fill="#000">
<text transform="translate(438.5,2136) scale(0.9457,1)" font-size="68">b) Model 2</text>
<text transform="translate(809,2136) scale(0.9458,1)" font-size="68">Harmal Flowers</text>
<text transform="translate(1891,2094.8) scale(0.9174,1)" font-size="64">Blank</text>
<text transform="translate(1891.5,2175.9) scale(0.9065,1)" font-size="64">20.8 ppm</text>
<g transform="translate(1891.5,2257) scale(0.9065,1)"><text font-size="64">29.1 ppm</text><g fill="#fff"><rect x="91.78" y="-8.03" width="12.12" height="9.03"/><rect x="112.69" y="-8.03" width="11.28" height="9.03"/></g></g>
<g transform="translate(1892,2338) scale(0.9047,1)"><text font-size="64">41.5 ppm</text><g fill="#fff"><rect x="38.41" y="-8.03" width="12.12" height="9.03"/><rect x="59.31" y="-8.03" width="11.28" height="9.03"/></g></g>
<g transform="translate(1891.5,2418.8) scale(0.9065,1)"><text font-size="64">62.1 ppm</text><g fill="#fff"><rect x="91.78" y="-8.03" width="12.12" height="9.03"/><rect x="112.69" y="-8.03" width="11.28" height="9.03"/></g></g>
<text transform="translate(1892.5,2499) scale(0.9029,1)" font-size="64">82.6 ppm</text>
<text transform="translate(211.5,3297.8) scale(0.9000,1)" font-size="58">0</text>
<text transform="translate(182.4,2895.8) scale(0.9000,1)" font-size="58">50</text>
<g transform="translate(153.5,2493.7) scale(0.9000,1)"><text font-size="58">100</text><g fill="#fff"><rect x="2.55" y="-7.42" width="10.99" height="8.42"/><rect x="21.50" y="-7.42" width="10.22" height="8.42"/></g></g>
<g transform="translate(153.5,2091.7) scale(0.9000,1)"><text font-size="58">150</text><g fill="#fff"><rect x="2.55" y="-7.42" width="10.99" height="8.42"/><rect x="21.50" y="-7.42" width="10.22" height="8.42"/></g></g>
<text transform="translate(381,3531) scale(0.9000,1)" font-size="58">0</text>
<text transform="translate(585.8,3531) scale(0.9000,1)" font-size="58">50</text>
<g transform="translate(790.6,3531) scale(0.9000,1)"><text font-size="58">100</text><g fill="#fff"><rect x="2.55" y="-7.42" width="10.99" height="8.42"/><rect x="21.50" y="-7.42" width="10.22" height="8.42"/></g></g>
<g transform="translate(1009.9,3531) scale(0.9000,1)"><text font-size="58">150</text><g fill="#fff"><rect x="2.55" y="-7.42" width="10.99" height="8.42"/><rect x="21.50" y="-7.42" width="10.22" height="8.42"/></g></g>
<text transform="translate(1229.2,3531) scale(0.9000,1)" font-size="58">200</text>
<text transform="translate(1448.5,3531) scale(0.9000,1)" font-size="58">250</text>
<text transform="translate(1667.8,3531) scale(0.9000,1)" font-size="58">300</text>
<text transform="translate(1887.1,3531) scale(0.9000,1)" font-size="58">350</text>
<text transform="translate(2106.4,3531) scale(0.9000,1)" font-size="58">400</text>
<text transform="translate(1071,3641.7) scale(0.9454,1)" font-size="68">Zreal(om)</text>
<text transform="translate(107,3008.5) rotate(-90) scale(0.9885,1)" font-size="68">-Zimag(ohm)</text>
</g>
<use href="#sq" x="1814" y="2075.7" fill="#8000FF"/>
<use href="#td" x="1813.9" y="2160.2" fill="#008080"/>
<use href="#tl" x="1810.8" y="2237.7" fill="#FF00FF"/>
<use href="#tu" x="1813.9" y="2315.8" fill="#0000FF"/>
<use href="#tr" x="1818" y="2399.5" fill="#808000"/>
<use href="#ci" x="1814.2" y="2480.5" fill="#FF0000"/>
</svg>
</body></html>
